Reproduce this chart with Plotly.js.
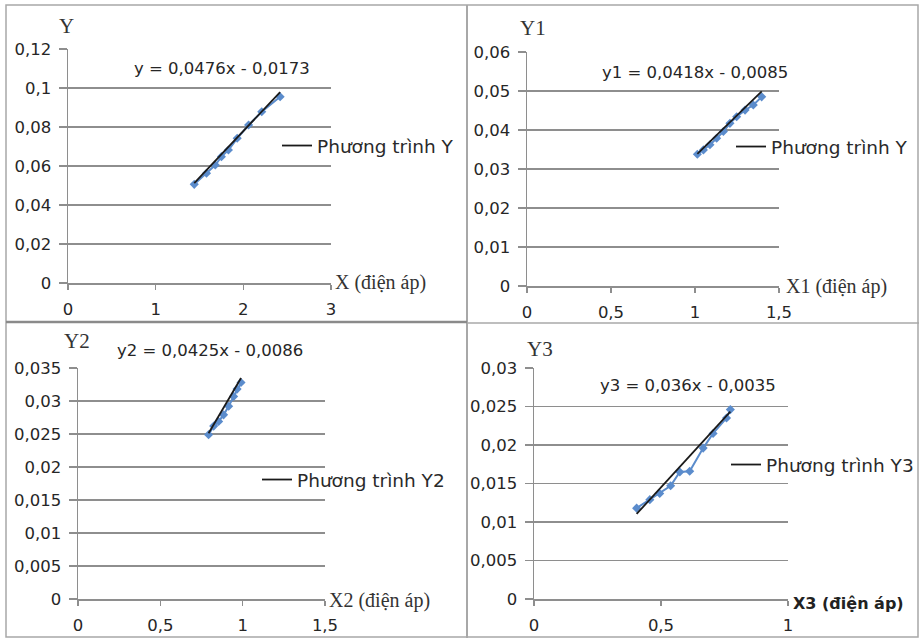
<!DOCTYPE html>
<html>
<head>
<meta charset="utf-8">
<script src="https://cdn.plot.ly/plotly-3.0.1.min.js"></script>
<style>html,body{margin:0;padding:0;background:#fff;}#chart{width:919px;height:638px;}</style>
</head>
<body>
<div id="chart"></div>
<script>
// ---- Data ----
const xY  = [1.44, 1.58, 1.68, 1.75, 1.83, 1.93, 2.06, 2.21, 2.42];
const yY  = [0.0506, 0.0563, 0.0605, 0.0648, 0.0682, 0.0742, 0.081, 0.0878, 0.0955];
const xY1 = [1.014, 1.05, 1.089, 1.129, 1.169, 1.208, 1.248, 1.298, 1.347, 1.397];
const yY1 = [0.0338, 0.0349, 0.0362, 0.0379, 0.0396, 0.0417, 0.0434, 0.0451, 0.0464, 0.0485];
const xY2 = [0.793, 0.824, 0.854, 0.884, 0.915, 0.945, 0.966, 0.990];
const yY2 = [0.0249, 0.0262, 0.0269, 0.0279, 0.0292, 0.0307, 0.0318, 0.0328];
const xY3 = [0.404, 0.456, 0.495, 0.538, 0.574, 0.613, 0.666, 0.705, 0.758, 0.773];
const yY3 = [0.0118, 0.0129, 0.0137, 0.0147, 0.0165, 0.0166, 0.0196, 0.0215, 0.0235, 0.0246];

// trendline coefficients (from the equations shown)
const slopes     = [0.0476, 0.0418, 0.0425, 0.036];
const intercepts = [-0.0173, -0.0085, -0.0086, -0.0035];
const equations  = ["y = 0,0476x - 0,0173", "y1 = 0,0418x - 0,0085", "y2 = 0,0425x - 0,0086", "y3 = 0,036x - 0,0035"];
const legendNames = ["Phương trình Y", "Phương trình Y", "Phương trình Y2", "Phương trình Y3"];
const yTitles = ["Y", "Y1", "Y2", "Y3"];
const xTitles = ["X (điện áp)", "X1 (điện áp)", "X2 (điện áp)", "X3 (điện áp)"];
const xRanges = [[0, 3], [0, 1.5], [0, 1.5], [0, 1]];
const xDticks = [1, 0.5, 0.5, 0.5];
const yRanges = [[0, 0.12], [0, 0.06], [0, 0.035], [0, 0.03]];
const yDticks = [0.02, 0.01, 0.005, 0.005];

const W = 919, H = 638;
const px = v => v / W, py = v => 1 - v / H;
// plot boxes in pixels: [left, right, top, bottom]
const boxes = [[68, 331, 49, 283], [527, 779, 52, 286], [78, 325, 368, 599], [534, 788, 368, 599]];

const xs = [xY, xY1, xY2, xY3];
const ys = [yY, yY1, yY2, yY3];

const gridC = '#8e8e8e';
const tickFont = {family: 'DejaVu Sans, sans-serif', size: 16.5, color: '#262626'};
const traces = [];
const layout = {
  width: W, height: H, margin: {l: 0, r: 0, t: 0, b: 0},
  paper_bgcolor: '#fff', plot_bgcolor: 'rgba(0,0,0,0)',
  separators: ',.', showlegend: true,
  annotations: [], shapes: []
};

for (let i = 0; i < 4; i++) {
  const n = i === 0 ? '' : String(i + 1);
  const b = boxes[i];
  layout['xaxis' + n] = {
    domain: [px(b[0]), px(b[1])], range: xRanges[i], dtick: xDticks[i], tick0: 0,
    anchor: 'y' + n, showgrid: false, zeroline: false,
    showline: true, linecolor: gridC, linewidth: 1.5,
    ticks: 'outside', ticklen: 5, tickwidth: 1.5, tickcolor: gridC,
    tickfont: tickFont, ticklabelstandoff: 6, fixedrange: true
  };
  layout['yaxis' + n] = {
    domain: [py(b[3]), py(b[2])], range: yRanges[i], dtick: yDticks[i], tick0: 0,
    anchor: 'x' + n, showgrid: true, gridcolor: gridC, gridwidth: 1.4, zeroline: false,
    showline: true, linecolor: gridC, linewidth: 1.5,
    ticks: 'outside', ticklen: 8, tickwidth: 1.4, tickcolor: gridC,
    tickfont: tickFont, ticklabelstandoff: 4, fixedrange: true
  };
  // data series
  traces.push({
    type: 'scatter', mode: 'lines+markers', x: xs[i], y: ys[i],
    xaxis: 'x' + n, yaxis: 'y' + n, showlegend: false, cliponaxis: false,
    line: {color: '#5b8ccc', width: 2},
    marker: {symbol: 'diamond', size: 7, color: '#5b8ccc'}
  });
  // linear trendline from the displayed equation
  const xmin = Math.min(...xs[i]), xmax = Math.max(...xs[i]);
  traces.push({
    type: 'scatter', mode: 'lines', x: [xmin, xmax],
    y: [slopes[i] * xmin + intercepts[i], slopes[i] * xmax + intercepts[i]],
    xaxis: 'x' + n, yaxis: 'y' + n, name: legendNames[i],
    legend: i === 0 ? 'legend' : 'legend' + (i + 1),
    line: {color: '#1a1a1a', width: 1.8}
  });
}

const legendPos = [[277, 146], [731, 147], [257, 480], [726, 465]];
for (let i = 0; i < 4; i++) {
  const key = i === 0 ? 'legend' : 'legend' + (i + 1);
  layout[key] = {
    x: px(legendPos[i][0]), y: py(legendPos[i][1]), xanchor: 'left', yanchor: 'middle',
    xref: 'paper', yref: 'paper',
    bgcolor: 'rgba(0,0,0,0)', borderwidth: 0, itemwidth: 30,
    font: {family: 'DejaVu Sans, sans-serif', size: 18.5, color: '#2a2a2a'}
  };
}

// equations
const eqPos = [[222, 69], [695, 72], [210, 350], [688, 385]];
const yTitlePos = [[66, 26], [533, 28], [77, 341], [540, 349]];
const xTitlePos = [[333, 283], [784, 286], [327, 600], [791, 603]];
for (let i = 0; i < 4; i++) {
  layout.annotations.push({
    xref: 'paper', yref: 'paper', x: px(eqPos[i][0]), y: py(eqPos[i][1]),
    xanchor: 'center', yanchor: 'middle', showarrow: false, text: equations[i],
    font: {family: 'DejaVu Sans, sans-serif', size: 16.5, color: '#262626'}
  });
  layout.annotations.push({
    xref: 'paper', yref: 'paper', x: px(yTitlePos[i][0]), y: py(yTitlePos[i][1]),
    xanchor: 'center', yanchor: 'middle', showarrow: false, text: yTitles[i],
    font: {family: 'Liberation Serif, serif', size: 21, color: '#333'}
  });
  layout.annotations.push({
    xref: 'paper', yref: 'paper', x: px(xTitlePos[i][0]), y: py(xTitlePos[i][1]),
    xanchor: 'left', yanchor: 'middle', showarrow: false,
    text: i === 3 ? '<b>' + xTitles[i] + '</b>' : xTitles[i],
    font: i === 3 ? {family: 'DejaVu Sans, sans-serif', size: 16, color: '#222'}
                  : {family: 'Liberation Serif, serif', size: 20, color: '#333'}
  });
}

// panel borders
const bc = '#a8a8a8';
layout.shapes.push(
  {type: 'rect', xref: 'paper', yref: 'paper', x0: px(6), x1: px(918), y0: py(637), y1: py(5), line: {color: bc, width: 1.5}},
  {type: 'line', xref: 'paper', yref: 'paper', x0: px(467), x1: px(467), y0: py(5), y1: py(638), line: {color: bc, width: 2}},
  {type: 'line', xref: 'paper', yref: 'paper', x0: px(6), x1: px(467), y0: py(322), y1: py(322), line: {color: '#8a8a8a', width: 2.5}},
  {type: 'line', xref: 'paper', yref: 'paper', x0: px(467), x1: px(919), y0: py(323), y1: py(323), line: {color: bc, width: 1.5}}
);

Plotly.newPlot('chart', traces, layout, {staticPlot: true, displayModeBar: false});
</script>
</body>
</html>
